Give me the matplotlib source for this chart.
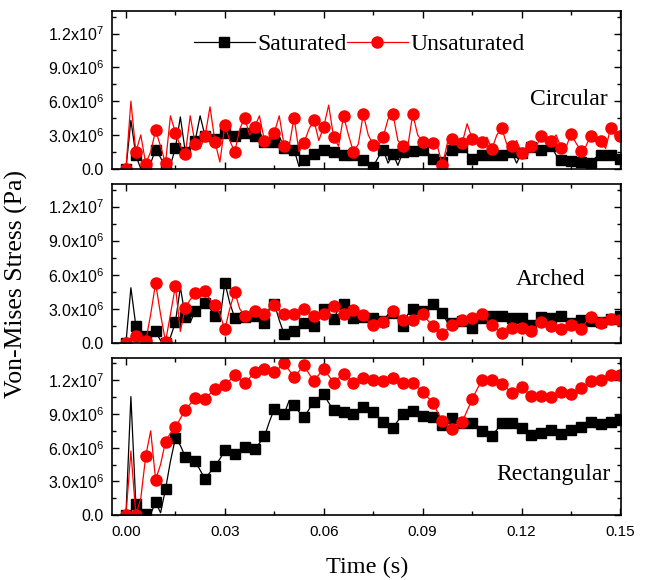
import numpy as np
import matplotlib
matplotlib.use("Agg")
import matplotlib.pyplot as plt
from matplotlib.ticker import MultipleLocator, FuncFormatter

plt.rcParams['font.family'] = ['Liberation Sans', 'DejaVu Sans']
plt.rcParams['mathtext.default'] = 'regular'

# time grid: 0 to 0.15 s, step 0.0015 s (markers drawn every 2nd sample)
time = np.linspace(0, 0.15, 101)

# values in 1e6 Pa; "_pts" = marked samples, "_mid" = samples between markers
circ_sat_pts = [0, 1.2, 0, 1.7, 0, 1.85, 1.5, 2.5, 2.9, 2.6, 3.15, 2.95, 3.15, 2.95, 2.35, 2.35, 1.85,
                1.7, 0.75, 1.3, 1.7, 1.5, 1.2, 1.2, 0.75, 0.2, 1.7, 1.3, 1.5, 1.6, 1.7, 0.9, 0.6, 1.7,
                1.9, 0.9, 1.25, 1.2, 1.2, 1.5, 1.4, 1.9, 1.7, 2.05, 0.75, 0.65, 0.6, 0.55, 1.25, 1.25, 0.9]
circ_sat_mid = [4.3, 0, 0.5, 1.0, 0.3, 4.6, 2.0, 4.7, 2.5, 2.5, 2.8, 2.5, 2.9, 3.3, 2.5, 2.9, 1.5,
                0.2, 1.0, 1.6, 1.6, 1.4, 1.5, 1.0, 0.3, 1.0, 0.5, 0.3, 1.6, 1.7, 1.5, 0.7, 1.5, 1.8,
                1.4, 1.0, 1.3, 1.0, 1.4, 0.5, 1.8, 1.6, 2.0, 1.2, 0.7, 0.6, 0.5, 1.0, 1.1, 1.0]
circ_uns_pts = [0, 1.5, 0.45, 3.4, 0.5, 3.2, 1.3, 2.2, 2.9, 2.4, 3.9, 1.5, 4.55, 3.7, 2.5, 3.2, 2.05,
                4.55, 2.3, 4.35, 3.75, 2.8, 4.7, 1.5, 4.85, 2.15, 2.8, 4.85, 2.05, 4.85, 2.4, 2.25, 0.3,
                2.65, 2.3, 2.65, 2.4, 1.75, 3.6, 2.0, 1.4, 2.05, 2.95, 2.5, 1.85, 3.1, 1.6, 2.95, 2.45,
                3.6, 2.95]
circ_uns_mid = [6.0, 3.0, 1.5, 2.0, 4.7, 2.0, 4.7, 1.8, 5.5, 0.6, 2.5, 3.5, 3.0, 4.7, 2.5, 4.7, 2.0,
                1.5, 3.5, 2.5, 5.65, 2.0, 3.0, 2.2, 3.0, 2.0, 4.4, 2.5, 2.0, 3.0, 2.3, 2.0, 2.3, 2.2,
                4.0, 2.5, 2.8, 3.0, 2.2, 2.5, 1.5, 2.0, 2.2, 3.0, 1.9, 2.3, 2.0, 2.4, 1.8, 3.0]

arch_sat_pts = [0, 1.5, 0.6, 1.0, 0, 1.8, 2.3, 2.8, 3.5, 2.4, 5.3, 2.2, 2.3, 2.35, 1.75, 3.45, 0.75,
                1.05, 1.75, 1.5, 3.0, 2.1, 3.45, 2.2, 2.3, 2.2, 1.9, 2.65, 1.5, 2.95, 2.8, 3.4, 2.6,
                1.7, 1.9, 1.3, 2.2, 2.35, 2.35, 2.2, 2.2, 1.6, 2.3, 2.2, 2.35, 1.75, 2.05, 1.9, 1.8,
                2.1, 2.35]
arch_sat_mid = [4.85, 0.3, 0.8, 0.2, 0.5, 4.9, 1.8, 3.0, 3.0, 2.0, 3.5, 2.5, 2.0, 2.0, 3.0, 2.0, 1.0,
                1.3, 1.9, 2.3, 2.5, 3.0, 2.8, 2.2, 2.1, 2.2, 2.5, 2.2, 2.5, 2.9, 3.1, 3.0, 1.8, 1.8,
                1.6, 1.8, 2.5, 2.3, 2.2, 2.3, 1.8, 2.0, 2.3, 2.2, 2.0, 1.9, 2.0, 1.8, 1.9, 2.2]
arch_uns_pts = [0, 0.6, 0.15, 5.25, 0.1, 5.0, 3.1, 4.35, 4.55, 3.3, 1.2, 4.5, 2.4, 2.8, 2.55, 3.3, 2.5,
                2.5, 2.95, 2.35, 2.5, 3.25, 2.5, 2.85, 2.45, 1.55, 1.8, 2.8, 2.05, 2.05, 2.5, 1.5, 0.8,
                1.55, 2.05, 2.2, 2.5, 1.6, 0.9, 1.3, 1.3, 1.05, 1.8, 1.5, 1.2, 1.6, 1.25, 2.3, 1.7,
                2.1, 2.05]
arch_uns_mid = [0.3, 0.4, 2.5, 2.5, 2.5, 1.0, 3.8, 4.0, 3.8, 2.5, 3.0, 3.0, 2.6, 2.7, 2.9, 2.8, 2.4,
                2.6, 2.6, 2.5, 3.0, 2.8, 2.7, 2.6, 1.9, 1.6, 2.3, 2.4, 2.0, 2.3, 2.0, 1.1, 1.2, 1.8,
                2.1, 2.4, 2.0, 1.2, 1.1, 1.4, 1.1, 1.5, 1.6, 1.3, 1.4, 1.9, 1.8, 2.0, 1.9, 2.1]

rect_sat_pts = [0, 0.95, 0.05, 1.15, 2.3, 6.85, 5.2, 4.8, 3.2, 4.35, 5.75, 5.45, 6.05, 5.9, 7.0, 9.45,
                9.0, 9.8, 8.7, 10.1, 10.75, 9.35, 9.15, 9.0, 9.6, 9.15, 8.25, 7.75, 9.0, 9.3, 8.85,
                8.7, 8.05, 8.65, 8.2, 8.2, 7.45, 7.05, 8.2, 8.2, 7.75, 7.15, 7.35, 7.6, 7.25, 7.6,
                7.85, 8.25, 8.15, 8.25, 8.5]
rect_sat_mid = [10.55, 0.3, 0.1, 0.2, 4.8, 6.2, 5.0, 4.0, 3.8, 5.0, 5.6, 5.7, 6.0, 6.4, 8.3, 9.2,
                10.2, 9.2, 9.4, 10.4, 10.0, 9.2, 9.1, 9.3, 9.4, 8.7, 8.0, 8.4, 9.2, 9.1, 8.8, 8.4,
                8.35, 8.4, 8.2, 7.8, 7.2, 7.6, 8.2, 8.0, 7.4, 7.25, 7.5, 7.4, 7.4, 7.7, 8.0, 8.2,
                8.2, 8.4]
rect_uns_pts = [0, 0, 5.25, 3.15, 6.55, 7.8, 9.35, 10.4, 10.3, 11.2, 11.6, 12.5, 11.75, 12.75, 13.05,
                12.7, 13.5, 12.3, 13.35, 11.95, 13.0, 11.8, 12.55, 11.8, 12.2, 12.05, 11.9, 12.25,
                11.8, 11.8, 11.0, 10.0, 8.4, 7.7, 8.3, 10.3, 12.0, 12.0, 11.7, 10.85, 11.4, 10.6,
                10.6, 10.5, 11.0, 10.8, 11.3, 11.9, 12.0, 12.45, 12.45]
rect_uns_mid = [5.7, 1.5, 7.5, 4.5, 7.3, 8.6, 9.9, 10.35, 10.8, 11.4, 12.0, 12.1, 12.2, 12.9, 12.9,
                13.1, 12.9, 12.8, 12.6, 12.5, 12.4, 12.2, 12.2, 12.0, 12.1, 12.0, 12.1, 12.0, 11.8,
                11.4, 10.5, 9.2, 8.0, 8.0, 9.3, 11.2, 12.0, 11.85, 11.3, 11.1, 11.0, 10.6, 10.55,
                10.75, 10.9, 11.05, 11.6, 11.95, 12.2, 12.45]

panel_names = ["Circular", "Arched", "Rectangular"]


def series(pts, mid):
    # interleave marked samples with the samples between them
    out = []
    for i in range(len(mid)):
        out += [pts[i], mid[i]]
    out.append(pts[-1])
    return np.array(out) * 1e6


panels = [
    (series(circ_sat_pts, circ_sat_mid), series(circ_uns_pts, circ_uns_mid)),
    (series(arch_sat_pts, arch_sat_mid), series(arch_uns_pts, arch_uns_mid)),
    (series(rect_sat_pts, rect_sat_mid), series(rect_uns_pts, rect_uns_mid)),
]

fig = plt.figure(figsize=(6.48, 5.8), dpi=100)
L, W = 0.173, 0.786
boxes = [(0.709, 0.272), (0.409, 0.274), (0.112, 0.271)]
label_pos = [(0.972, 0.44), (0.93, 0.40), (0.978, 0.26)]


def ytick_fmt(v, pos):
    if abs(v) < 1:
        return "0.0"
    e = int(np.floor(np.log10(abs(v))))
    return "%.1fx10$^{%d}$" % (v / 10**e, e)


axes = []
for k, (sat, uns) in enumerate(panels):
    b, h = boxes[k]
    ax = fig.add_axes([L, b, W, h])
    axes.append(ax)
    ax.plot(time, sat, color='black', lw=0.9, marker='s', ms=6.5, markevery=2,
            label='Saturated', clip_on=True)
    ax.plot(time, uns, color='red', lw=0.9, marker='o', ms=8, markevery=2,
            label='Unsaturated', clip_on=True)
    ax.set_xlim(-0.0042, 0.1503)
    ax.set_ylim(0, 1.4e7)
    ax.xaxis.set_major_locator(MultipleLocator(0.03))
    ax.xaxis.set_minor_locator(MultipleLocator(0.015))
    ax.yaxis.set_major_locator(MultipleLocator(3e6))
    ax.yaxis.set_minor_locator(MultipleLocator(1.5e6))
    ax.yaxis.set_major_formatter(FuncFormatter(ytick_fmt))
    ax.tick_params(which='both', direction='in', top=True, right=True, width=1.0)
    ax.tick_params(which='major', length=5)
    ax.tick_params(which='minor', length=3)
    ax.tick_params(axis='y', labelsize=11.5, pad=6)
    ax.tick_params(axis='x', labelsize=11, pad=7)
    for s in ax.spines.values():
        s.set_linewidth(1.2)
    if k < 2:
        ax.tick_params(axis='x', labelbottom=False)
    tx, ty = label_pos[k]
    ax.text(tx, ty, panel_names[k], transform=ax.transAxes, ha='right', va='center',
            family='Liberation Serif', fontsize=17)

axes[0].legend(loc='center', bbox_to_anchor=(0.485, 0.79), ncol=2, frameon=False,
               prop={'family': 'Liberation Serif', 'size': 17}, handlelength=2.6,
               handletextpad=0.1, columnspacing=0.0, borderpad=0.1)

axes[2].set_xlabel("Time (s)", family='Liberation Serif', fontsize=17.5, labelpad=13)
fig.text(0.025, 0.51, "Von-Mises Stress (Pa)", rotation=90, ha='center', va='center',
         family='Liberation Serif', fontsize=18.5)

fig.savefig("out.png", dpi=100)
